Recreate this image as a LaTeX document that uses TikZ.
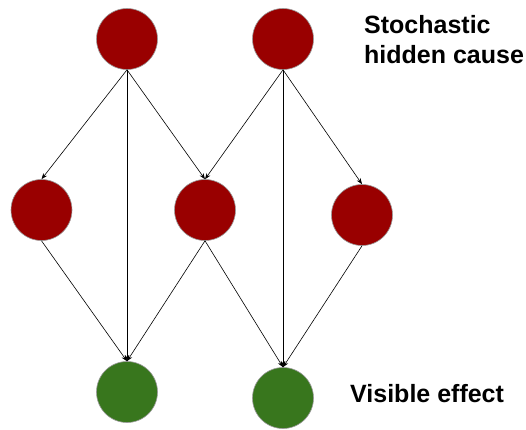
\documentclass[tikz,border=0pt]{standalone}
\usepackage{fontspec}
\setmainfont{Liberation Sans}
\usetikzlibrary{arrows.meta}
\definecolor{causered}{HTML}{990000}
\definecolor{effectgreen}{HTML}{38761D}
\begin{document}
\begin{tikzpicture}[x=1pt, y=-1pt,
    cause/.style={circle, fill=causered, draw=gray!80, line width=0.6pt, minimum size=61pt, inner sep=0pt},
    effect/.style={cause, fill=effectgreen},
    link/.style={-{Stealth[length=6pt, width=4.5pt]}, line width=0.6pt},
    caption/.style={font=\bfseries\fontsize{25}{30}\selectfont, inner sep=0pt, align=left}]

    \useasboundingbox (0,0) rectangle (526,429);

    % Hidden causes on top
    \node[cause] (h1) at (127,39) {};
    \node[cause] (h2) at (283,39) {};

    % Middle layer
    \node[cause] (m1) at (41.5,210) {};
    \node[cause] (m2) at (205,210) {};
    \node[cause] (m3) at (362,215) {};

    % Visible effects at the bottom
    \node[effect] (v1) at (127,392) {};
    \node[effect] (v2) at (283,398) {};

    % Links from the top causes
    \draw[link] (h1.south) -- (m1.north);
    \draw[link] (h1.south) -- (v1.north);
    \draw[link] (h1.south) -- (m2.north);
    \draw[link] (h2.south) -- (m2.north);
    \draw[link] (h2.south) -- (v2.north);
    \draw[link] (h2.south) -- (m3.north);

    % Links from the middle layer
    \draw[link] (m1.south) -- (v1.north);
    \draw[link] (m2.south) -- (v1.north);
    \draw[link] (m2.south) -- (v2.north);
    \draw[link] (m3.south) -- (v2.north);

    % Labels
    \node[caption, anchor=north west] (causelabel) at (364,15.5) {Stochastic\\hidden cause};
    \node[caption, anchor=base west] (effectlabel) at (350,402) {Visible effect};

\end{tikzpicture}
\end{document}
